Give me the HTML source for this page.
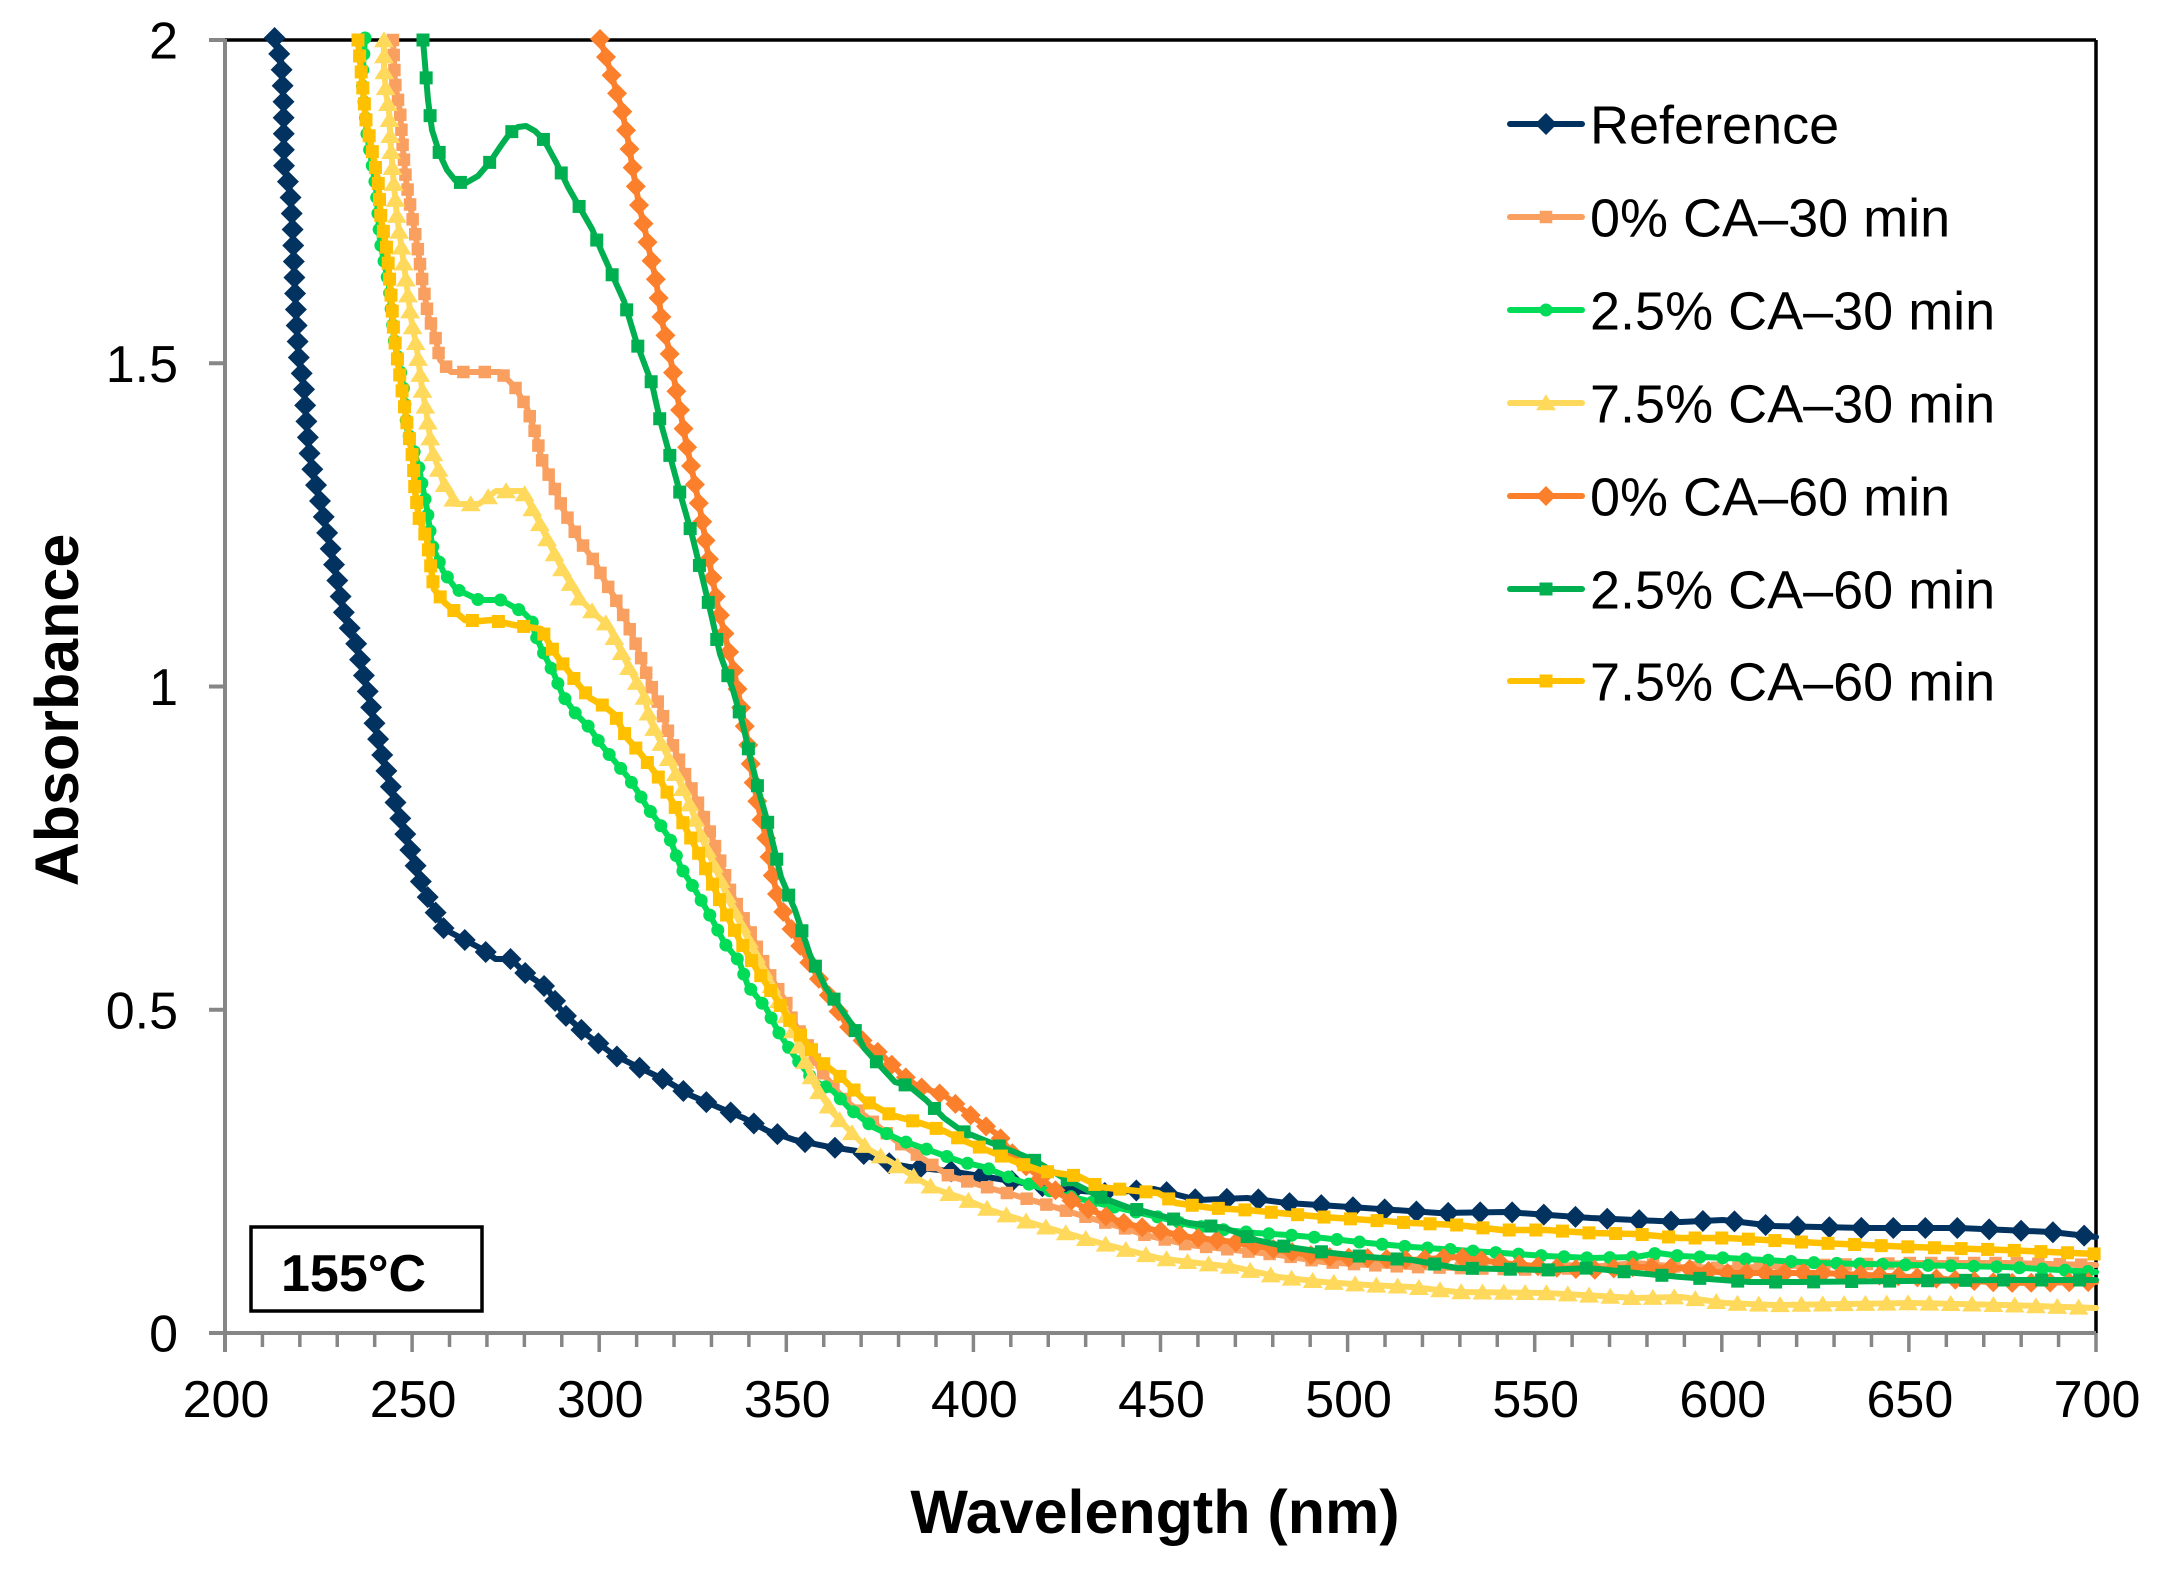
<!DOCTYPE html>
<html>
<head>
<meta charset="utf-8">
<style>
html,body{margin:0;padding:0;background:#fff;}
body{width:2175px;height:1579px;overflow:hidden;}
svg{display:block;}
text{font-family:"Liberation Sans",Arial,sans-serif;fill:#000;}
</style>
</head>
<body>
<svg id="chart" xmlns="http://www.w3.org/2000/svg" width="2175" height="1579" viewBox="0 0 2175 1579">
<rect x="0" y="0" width="2175" height="1579" fill="#fff"/>
<g id="axes"></g>
<g id="series"></g>
<g id="legend"></g>
<!-- box label -->
<rect x="251" y="1227" width="231" height="84" fill="#fff" stroke="#000" stroke-width="3.5"/>
<text x="281" y="1291" font-size="52" font-weight="bold">155°C</text>
<!-- axis titles -->
<text x="1155" y="1533" font-size="61" font-weight="bold" text-anchor="middle">Wavelength (nm)</text>
<text transform="translate(78,710) rotate(-90)" x="0" y="0" font-size="61" font-weight="bold" text-anchor="middle">Absorbance</text>
</svg>
<script>
(function(){
var NS="http://www.w3.org/2000/svg";
var L=225,R=2096,T=40,B=1333;
function el(tag,attrs,parent){var e=document.createElementNS(NS,tag);for(var k in attrs)e.setAttribute(k,attrs[k]);if(parent)parent.appendChild(e);return e;}
var axes=document.getElementById("axes");
el("line",{x1:L,y1:T,x2:R,y2:T,stroke:"#000","stroke-width":3.5},axes);
el("line",{x1:R,y1:T,x2:R,y2:B,stroke:"#000","stroke-width":3.5},axes);
el("line",{x1:L,y1:T-1,x2:L,y2:B+19,stroke:"#868686","stroke-width":4},axes);
el("line",{x1:209,y1:B,x2:R,y2:B,stroke:"#868686","stroke-width":4},axes);
var ylab=["0","0.5","1","1.5","2"];
for(var i=0;i<5;i++){
  var y=B-(B-T)*i/4;
  el("line",{x1:209,y1:y,x2:L,y2:y,stroke:"#868686","stroke-width":4},axes);
  var t=el("text",{x:178,y:y+18.5,"font-size":52,"text-anchor":"end"},axes);t.textContent=ylab[i];
}
for(var nm=200;nm<=700;nm+=10){
  var x=L+(nm-200)*(R-L)/500;
  var major=(nm%50===0);
  el("line",{x1:x,y1:B,x2:x,y2:B+(major?19:14),stroke:"#868686","stroke-width":3.5},axes);
  if(major){var t2=el("text",{x:x+1,y:1417,"font-size":52,"text-anchor":"middle"},axes);t2.textContent=String(nm);}
}
function shape(g,type,cx,cy,sz,col){
  if(type==="diamond"){el("polygon",{points:(cx)+","+(cy-sz)+" "+(cx+sz)+","+cy+" "+cx+","+(cy+sz)+" "+(cx-sz)+","+cy,fill:col},g);}
  else if(type==="square"){el("rect",{x:cx-sz/2,y:cy-sz/2,width:sz,height:sz,fill:col},g);}
  else if(type==="circle"){el("circle",{cx:cx,cy:cy,r:sz,fill:col},g);}
  else if(type==="triangle"){el("polygon",{points:cx+","+(cy-sz*0.55)+" "+(cx+sz*0.62)+","+(cy+sz*0.45)+" "+(cx-sz*0.62)+","+(cy+sz*0.45),fill:col},g);}
}
function resample(pts,kx,step){
  var out=[pts[0]];var acc=0;
  for(var i=1;i<pts.length;i++){
    var p0=pts[i-1],p1=pts[i];
    var dx=p1[0]-p0[0],dy=p1[1]-p0[1];
    var len=Math.sqrt(dx*dx*kx*kx+dy*dy);
    if(len===0)continue;
    var pos=step-acc;
    while(pos<=len){var f=pos/len;out.push([p0[0]+dx*f,p0[1]+dy*f]);pos+=step;}
    acc=len-(pos-step);
  }
  return out;
}
var S=[
 {name:"Reference",col:"#023260",mk:"diamond",sz:11,kx:0.5,step:16,lw:6,pts:[[274.6,38],[281,60],[283.5,100],[284,166],[290,190],[292.4,223],[294.6,283],[297,333],[299,360],[303.6,383],[306,417],[309,450],[313,473],[322,509],[333.5,562],[344.6,616],[356,643],[367,688],[377,735],[388,777],[398,811],[409,846],[423,888],[444,929],[480,948],[495.6,959],[511,959],[524.6,972.6],[547,988],[562.6,1012.8],[587,1035],[614,1055],[636,1066],[665,1080],[690,1095],[716.6,1106.5],[743,1117.7],[768,1131],[794.7,1140],[828,1146.7],[857,1151],[882,1162],[908.6,1166.8],[948.8,1171],[993,1178],[1060,1189],[1105,1193],[1154,1189],[1198,1200],[1247,1198],[1287,1203],[1350,1207],[1439,1213],[1506,1212],[1591,1218],[1681,1222],[1723,1220],[1774,1226],[1866,1228],[1959,1228],[2051,1232],[2096,1237]]},
 {name:"0% CA\u201330 min",col:"#F9A061",mk:"square",sz:12.5,kx:0.7,step:15,lw:6,pts:[[393,40],[395,83],[400,111],[403,150],[406,180],[411,210],[418,250],[423,285],[428,315],[435,335],[440,360],[451,372],[500,372],[515,387],[527,408],[535,432],[542,460],[552,482],[563,509],[579,540],[595,562],[604,580],[615,598],[628,625],[639,652],[648,678],[660,707],[672,743],[685,774],[699,805],[710,832],[721,863],[730,890],[743,917],[752,935],[761,957],[772,979],[786,1002],[792,1019],[806,1042],[819,1068],[837,1091],[850,1104],[873,1122],[895,1140],[922,1158],[949,1176],[993,1189],[1038,1202],[1083,1216],[1127,1229],[1145,1235],[1189,1245],[1234,1250],[1279,1255],[1323,1262],[1368,1265],[1412,1267],[1457,1268],[1546,1270],[1591,1267],[1636,1263],[1680,1267],[1727,1268],[1820,1265],[1912,1263],[2005,1263],[2096,1265]]},
 {name:"2.5% CA\u201330 min",col:"#00DC58",mk:"circle",sz:6.5,kx:0.7,step:16,lw:6,pts:[[365,38],[362,80],[367,134],[376,188],[380,241],[389,286],[394,339],[403,384],[407,429],[418,464],[427,509],[432,545],[443,571],[456,589],[479,600],[501,600],[523,612],[532,621],[535,634],[543,652],[554,674],[563,696],[576,714],[589,727],[600,743],[612,758],[627,776],[638,792],[647,807],[659,823],[670,839],[681,868],[694,888],[712,919],[725,944],[739,961],[748,986],[766,1008],[779,1033],[795,1057],[813,1080],[833,1091],[850,1109],[873,1127],[900,1140],[926,1149],[962,1162],[984,1167],[1016,1180],[1060,1194],[1105,1205],[1127,1210],[1158,1217],[1189,1225],[1225,1230],[1256,1233],[1288,1235],[1323,1238],[1368,1243],[1412,1247],[1457,1250],[1502,1253],[1546,1256],[1591,1258],[1636,1257],[1658,1253],[1680,1256],[1727,1258],[1820,1263],[1912,1265],[2005,1267],[2096,1272]]},
 {name:"7.5% CA\u201330 min",col:"#FFD95C",mk:"triangle",sz:16,kx:0.75,step:16,lw:6,pts:[[384,40],[384,67],[386,93],[389,110],[391,150],[393.5,180],[397,217],[402,250],[406,280],[411,318],[417,350],[422,388],[426,410],[432,450],[443,482],[456,504],[479,504],[496,491],[523,491],[537,518],[550,545],[563,571],[579,598],[597,616],[608,625],[617,643],[630,670],[644,696],[650,720],[663,747],[676,774],[690,805],[703,841],[717,872],[730,903],[748,939],[761,966],[775,993],[788,1019],[801,1051],[815,1086],[833,1113],[850,1131],[868,1149],[891,1162],[913,1176],[935,1189],[962,1198],[993,1211],[1038,1225],[1083,1238],[1100,1243],[1127,1250],[1158,1258],[1189,1262],[1234,1267],[1279,1277],[1323,1282],[1368,1285],[1412,1287],[1457,1292],[1546,1293],[1636,1298],[1681,1297],[1725,1303],[1774,1305],[1912,1303],[2005,1305],[2096,1308]]},
 {name:"0% CA\u201360 min",col:"#FC7F2B",mk:"diamond",sz:10,kx:1,step:19,lw:6,pts:[[600,39],[607,60],[616,90],[622,110],[628,140],[633,170],[639,205],[645,230],[650,254],[656,280],[662,321],[669,350],[675,384],[681,415],[686,442],[693,475],[700,509],[708,554],[717,603],[726,640],[734,671],[741,707],[748,743],[752,774],[759,810],[768,845],[771,868],[779,903],[792,930],[806,957],[819,979],[833,1002],[846,1024],[864,1042],[882,1055],[900,1073],[917,1086],[944,1095],[962,1109],[980,1122],[998,1135],[1016,1158],[1038,1176],[1060,1194],[1083,1207],[1105,1216],[1127,1224],[1150,1229],[1189,1237],[1234,1242],[1279,1250],[1323,1257],[1368,1258],[1412,1260],[1457,1257],[1502,1263],[1546,1267],[1591,1270],[1636,1267],[1680,1268],[1727,1273],[1820,1273],[1912,1277],[2005,1283],[2096,1282]]},
 {name:"2.5% CA\u201360 min",col:"#00B050",mk:"square",sz:13,kx:1,step:38,lw:6,pts:[[423,40],[428,100],[432,130],[440,155],[447,170],[455,180],[464,184],[478,176],[490,162],[500,147],[510,133],[518,127],[526,126],[535,131],[544,140],[556,162],[568,187],[580,208],[592,229],[601,250],[610,270],[624,301],[637,344],[652,384],[660,420],[670,456],[680,493],[692,535],[702,576],[712,618],[720,654],[733,690],[743,725],[750,756],[759,792],[769,827],[781,877],[795,910],[810,955],[826,988],[839,1006],[853,1026],[864,1048],[882,1068],[895,1082],[909,1086],[926,1100],[944,1118],[962,1131],[984,1140],[1007,1149],[1034,1160],[1060,1176],[1100,1197],[1127,1207],[1158,1215],[1189,1223],[1225,1228],[1256,1240],[1288,1247],[1323,1252],[1368,1257],[1412,1260],[1457,1268],[1546,1270],[1589,1268],[1636,1273],[1681,1277],[1750,1282],[1800,1282],[1900,1281],[2000,1280],[2096,1280]]},
 {name:"7.5% CA\u201360 min",col:"#FFC000",mk:"square",sz:13,kx:0.6,step:16,lw:6.5,pts:[[358,40],[362,80],[366,120],[372,150],[378,180],[381,219],[387,250],[391,295],[394,335],[400,377],[408,430],[413,460],[415,491],[419,518],[427,540],[434,589],[445,603],[452,609],[465,620],[480,621],[492,620],[514,625],[541,629],[554,652],[566,668],[578,684],[590,698],[604,706],[614,714],[627,738],[641,754],[659,778],[672,801],[685,827],[699,854],[712,883],[725,912],[739,939],[757,970],[775,997],[792,1024],[806,1042],[819,1060],[842,1078],[864,1100],[891,1115],[917,1122],[944,1131],[962,1140],[984,1149],[1016,1162],[1042,1171],[1078,1176],[1100,1187],[1127,1190],[1158,1193],[1176,1203],[1212,1208],[1247,1210],[1279,1213],[1323,1217],[1368,1220],[1412,1223],[1457,1225],[1502,1230],[1546,1230],[1591,1233],[1636,1234],[1680,1238],[1727,1238],[1820,1243],[1912,1247],[2005,1250],[2096,1254]]}
];
var sg=document.getElementById("series");
S.forEach(function(s){
  var g=el("g",{},sg);
  var d=s.pts.map(function(p,i){return (i?"L":"M")+p[0]+","+p[1];}).join(" ");
  el("path",{d:d,fill:"none",stroke:s.col,"stroke-width":s.lw,"stroke-linejoin":"round","stroke-linecap":"round"},g);
  resample(s.pts,s.kx,s.step).forEach(function(p){shape(g,s.mk,p[0],p[1],s.sz,s.col);});
});
var lg=document.getElementById("legend");
var rows=[124,217,310,403,496,589,681];
S.forEach(function(s,i){
  var y=rows[i];
  el("line",{x1:1510,y1:y,x2:1582,y2:y,stroke:s.col,"stroke-width":6,"stroke-linecap":"round"},lg);
  shape(lg,s.mk,1546,y,s.sz,s.col);
  var t=el("text",{x:1590,y:y+19.5,"font-size":54},lg);t.textContent=s.name;
});
})();
</script>
</body>
</html>
